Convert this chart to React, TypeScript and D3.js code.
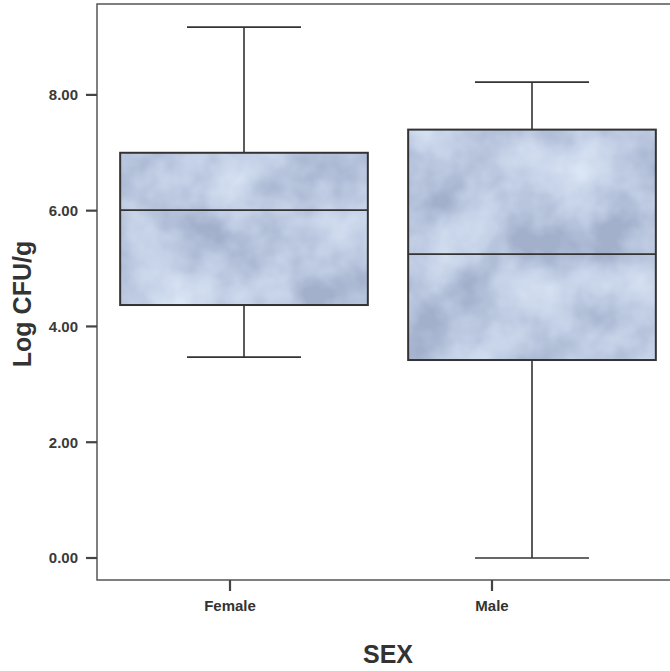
import React from 'react';
import * as d3 from 'd3';

const categories = ['Female', 'Male'];
const whiskerLow = [3.47, 0.0];
const quartile1 = [4.37, 3.42];
const medians = [6.01, 5.25];
const quartile3 = [7.0, 7.4];
const whiskerHigh = [9.17, 8.22];
const yTicks = [0, 2, 4, 6, 8];

export default function App() {
  const width = 670;
  const height = 671;
  const left = 97;
  const top = 4;
  const bottom = 580;
  const right = 690;

  const y = d3.scaleLinear().domain([-0.38, 9.57]).range([bottom, top]);
  // the boxes and the category ticks sit on slightly different spacings in the original
  const xBox = d3.scaleBand().domain(categories).range([100, 676]).paddingInner(0.14).paddingOuter(0.07);
  const xTick = d3.scalePoint().domain(categories).range([230, 492]);

  const capHalf = 57;
  const ink = '#333';

  return (
    <svg width={width} height={height} style={{ position: 'absolute', left: 0, top: 0, background: '#fff' }}
      fontFamily="Arial, 'Liberation Sans', sans-serif">
      <defs>
        <filter id="mottle" x="0" y="0" width="100%" height="100%" colorInterpolationFilters="sRGB">
          <feTurbulence type="fractalNoise" baseFrequency="0.015" numOctaves={4} seed={11} result="noise" />
          <feColorMatrix in="noise" type="matrix"
            values="0 0 0 0 0.64  0 0 0 0 0.69  0 0 0 0 0.80  3 0 0 0 -1.25" result="dark" />
          <feComposite in="dark" in2="SourceGraphic" operator="in" result="clip" />
          <feColorMatrix in="noise" type="matrix"
            values="0 0 0 0 0.86  0 0 0 0 0.90  0 0 0 0 0.96  -3 0 0 0 1.25" result="light" />
          <feComposite in="light" in2="SourceGraphic" operator="in" result="clipLight" />
          <feMerge>
            <feMergeNode in="SourceGraphic" />
            <feMergeNode in="clip" />
            <feMergeNode in="clipLight" />
          </feMerge>
        </filter>
      </defs>

      <rect x={left} y={top} width={right - left} height={bottom - top} fill="none" stroke="#555" strokeWidth={1.5} />

      {categories.map((c, i) => {
        const x0 = xBox(c)!;
        const bw = xBox.bandwidth();
        const cx = x0 + bw / 2;
        return (
          <g key={c}>
            <line x1={cx} x2={cx} y1={y(whiskerHigh[i])} y2={y(quartile3[i])} stroke={ink} strokeWidth={1.6} />
            <line x1={cx} x2={cx} y1={y(quartile1[i])} y2={y(whiskerLow[i])} stroke={ink} strokeWidth={1.6} />
            <line x1={cx - capHalf} x2={cx + capHalf} y1={y(whiskerHigh[i])} y2={y(whiskerHigh[i])} stroke={ink} strokeWidth={1.6} />
            <line x1={cx - capHalf} x2={cx + capHalf} y1={y(whiskerLow[i])} y2={y(whiskerLow[i])} stroke={ink} strokeWidth={1.6} />
            <rect x={x0} y={y(quartile3[i])} width={bw} height={y(quartile1[i]) - y(quartile3[i])}
              fill="#c4d1e7" filter="url(#mottle)" />
            <rect x={x0} y={y(quartile3[i])} width={bw} height={y(quartile1[i]) - y(quartile3[i])}
              fill="none" stroke={ink} strokeWidth={2} />
            <line x1={x0} x2={x0 + bw} y1={y(medians[i])} y2={y(medians[i])} stroke={ink} strokeWidth={1.6} />
          </g>
        );
      })}

      {yTicks.map(t => (
        <g key={t} transform={`translate(${left},${y(t)})`}>
          <line x1={-11} x2={0} stroke="#444" strokeWidth={2.2} />
          <text x={-19} dy="0.36em" textAnchor="end" fontSize={15} fontWeight="bold" fill="#3a3a3a">
            {d3.format('.2f')(t)}
          </text>
        </g>
      ))}

      {categories.map(c => (
        <g key={c} transform={`translate(${xTick(c)},${bottom})`}>
          <line y1={0} y2={11} stroke="#444" strokeWidth={2.2} />
          <text y={31} textAnchor="middle" fontSize={15} fontWeight={600} fill="#333">{c}</text>
        </g>
      ))}

      <text transform={`translate(31,304) rotate(-90)`} textAnchor="middle"
        fontSize={25} fontWeight="bold" fill="#333">Log CFU/g</text>
      <text x={388} y={663} textAnchor="middle" fontSize={25} fontWeight="bold" fill="#333">SEX</text>
    </svg>
  );
}
